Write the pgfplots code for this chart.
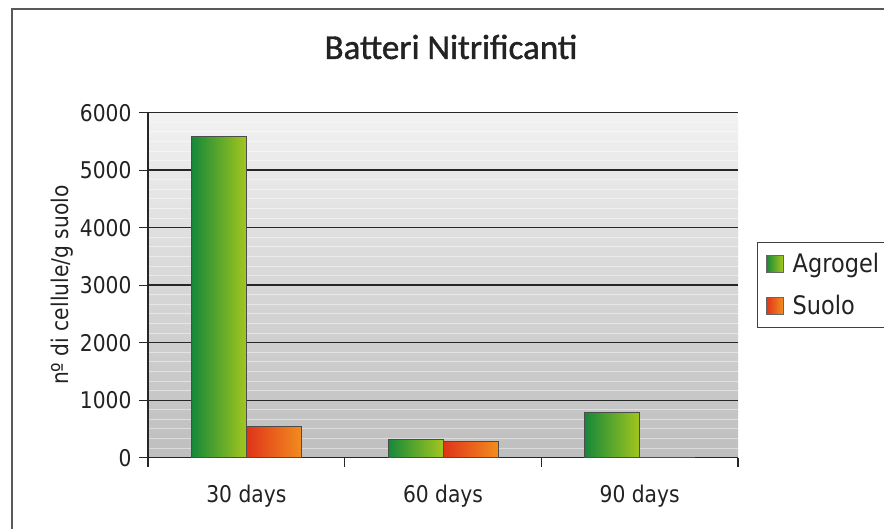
\documentclass[border=0pt]{standalone}
\usepackage{fontspec}
\setmainfont{DejaVu Sans}[FakeStretch=0.88]
\newfontfamily\titlefont{Carlito}[FakeBold=1.2]
\usepackage{pgfplots}
\pgfplotsset{compat=1.18}
\definecolor{agdark}{HTML}{16883A}
\definecolor{aglight}{HTML}{A2C61E}
\definecolor{sudark}{HTML}{DF3419}
\definecolor{sulight}{HTML}{F28C1F}
\definecolor{bgbot}{HTML}{B9B9B9}
\definecolor{bgmid}{HTML}{DCDCDC}
\definecolor{txt}{HTML}{222222}
\pgfdeclareverticalshading{bgshade}{100bp}{color(0bp)=(bgbot); color(20bp)=(bgbot); color(55bp)=(bgmid); color(80bp)=(white!97!black); color(100bp)=(white)}
\pgfplotsset{
  agbar/.style={forget plot, bar shift=-27.5pt, draw=black!70, line width=1pt, left color=agdark, right color=aglight},
  subar/.style={forget plot, bar shift=27.5pt, draw=black!70, line width=1pt, left color=sudark, right color=sulight},
}
\begin{document}
\begin{tikzpicture}
\useasboundingbox (0,0) rectangle (884pt,528pt);
\fill[white] (0,0) rectangle (884pt,528pt);
\draw[line width=2pt, black!65] (12pt,-10pt) -- (12pt,519pt) -- (900pt,519pt);
\node[font=\titlefont\fontsize{35}{40}\selectfont, text=txt] at (451pt,481pt) {Batteri Nitrificanti};
\begin{axis}[
  at={(148pt,70.3pt)}, anchor=south west,
  scale only axis, width=590pt, height=345pt,
  ybar=0pt, bar width=55pt,
  xmin=-0.5, xmax=2.5, ymin=0, ymax=6000,
  enlarge x limits=false,
  axis x line=bottom, axis y line=left,
  axis line style={-, line width=1.3pt, black!85},
  xtick={-0.5,0.5,1.5,2.5},
  xticklabels={30 days,60 days,90 days},
  x tick label as interval,
  ytick={0,1000,...,6000},
  minor y tick num=5,
  minor tick length=0pt,
  tick align=outside,
  major tick length=9pt,
  tick style={line width=1.3pt, black!85},
  ymajorgrids, yminorgrids,
  major grid style={line width=1.4pt, black!85},
  minor grid style={line width=1pt, white, opacity=0.45},
  /pgf/number format/assume math mode=true,
  /pgf/number format/1000 sep={},
  ticklabel style={font=\fontsize{23}{27}\selectfont, text=txt},
  xticklabel style={yshift=-15pt},
  yticklabel style={xshift=-4pt},
  ylabel={nº di cellule/g suolo},
  ylabel style={font=\fontsize{23}{27}\selectfont, text=txt, at={(axis description cs:-0.146,0.5)}, anchor=center},
  axis background/.style={shading=bgshade},
  legend style={at={(1.0322,0.6255)}, anchor=north west, draw=black!75, line width=1.3pt,
     font=\fontsize{25.5}{30}\selectfont, text=txt, inner xsep=8pt, inner ysep=9pt, row sep=17pt, cells={anchor=west}},
  legend image code/.code={\draw[#1, draw=black!60, line width=0.8pt] (0pt,-8.5pt) rectangle (17pt,8.5pt); \path (24pt,0pt);},
]
% Agrogel
\addplot[agbar] coordinates {(0,5580)};
\addplot[agbar] coordinates {(1,308)};
\addplot[agbar] coordinates {(2,790)};
% Suolo
\addplot[subar] coordinates {(0,550)};
\addplot[subar] coordinates {(1,278)};
\addplot[subar] coordinates {(2,10)};
\addlegendimage{left color=agdark, right color=aglight}
\addlegendentry{Agrogel}
\addlegendimage{left color=sudark, right color=sulight}
\addlegendentry{Suolo}
\end{axis}
\end{tikzpicture}
\end{document}
